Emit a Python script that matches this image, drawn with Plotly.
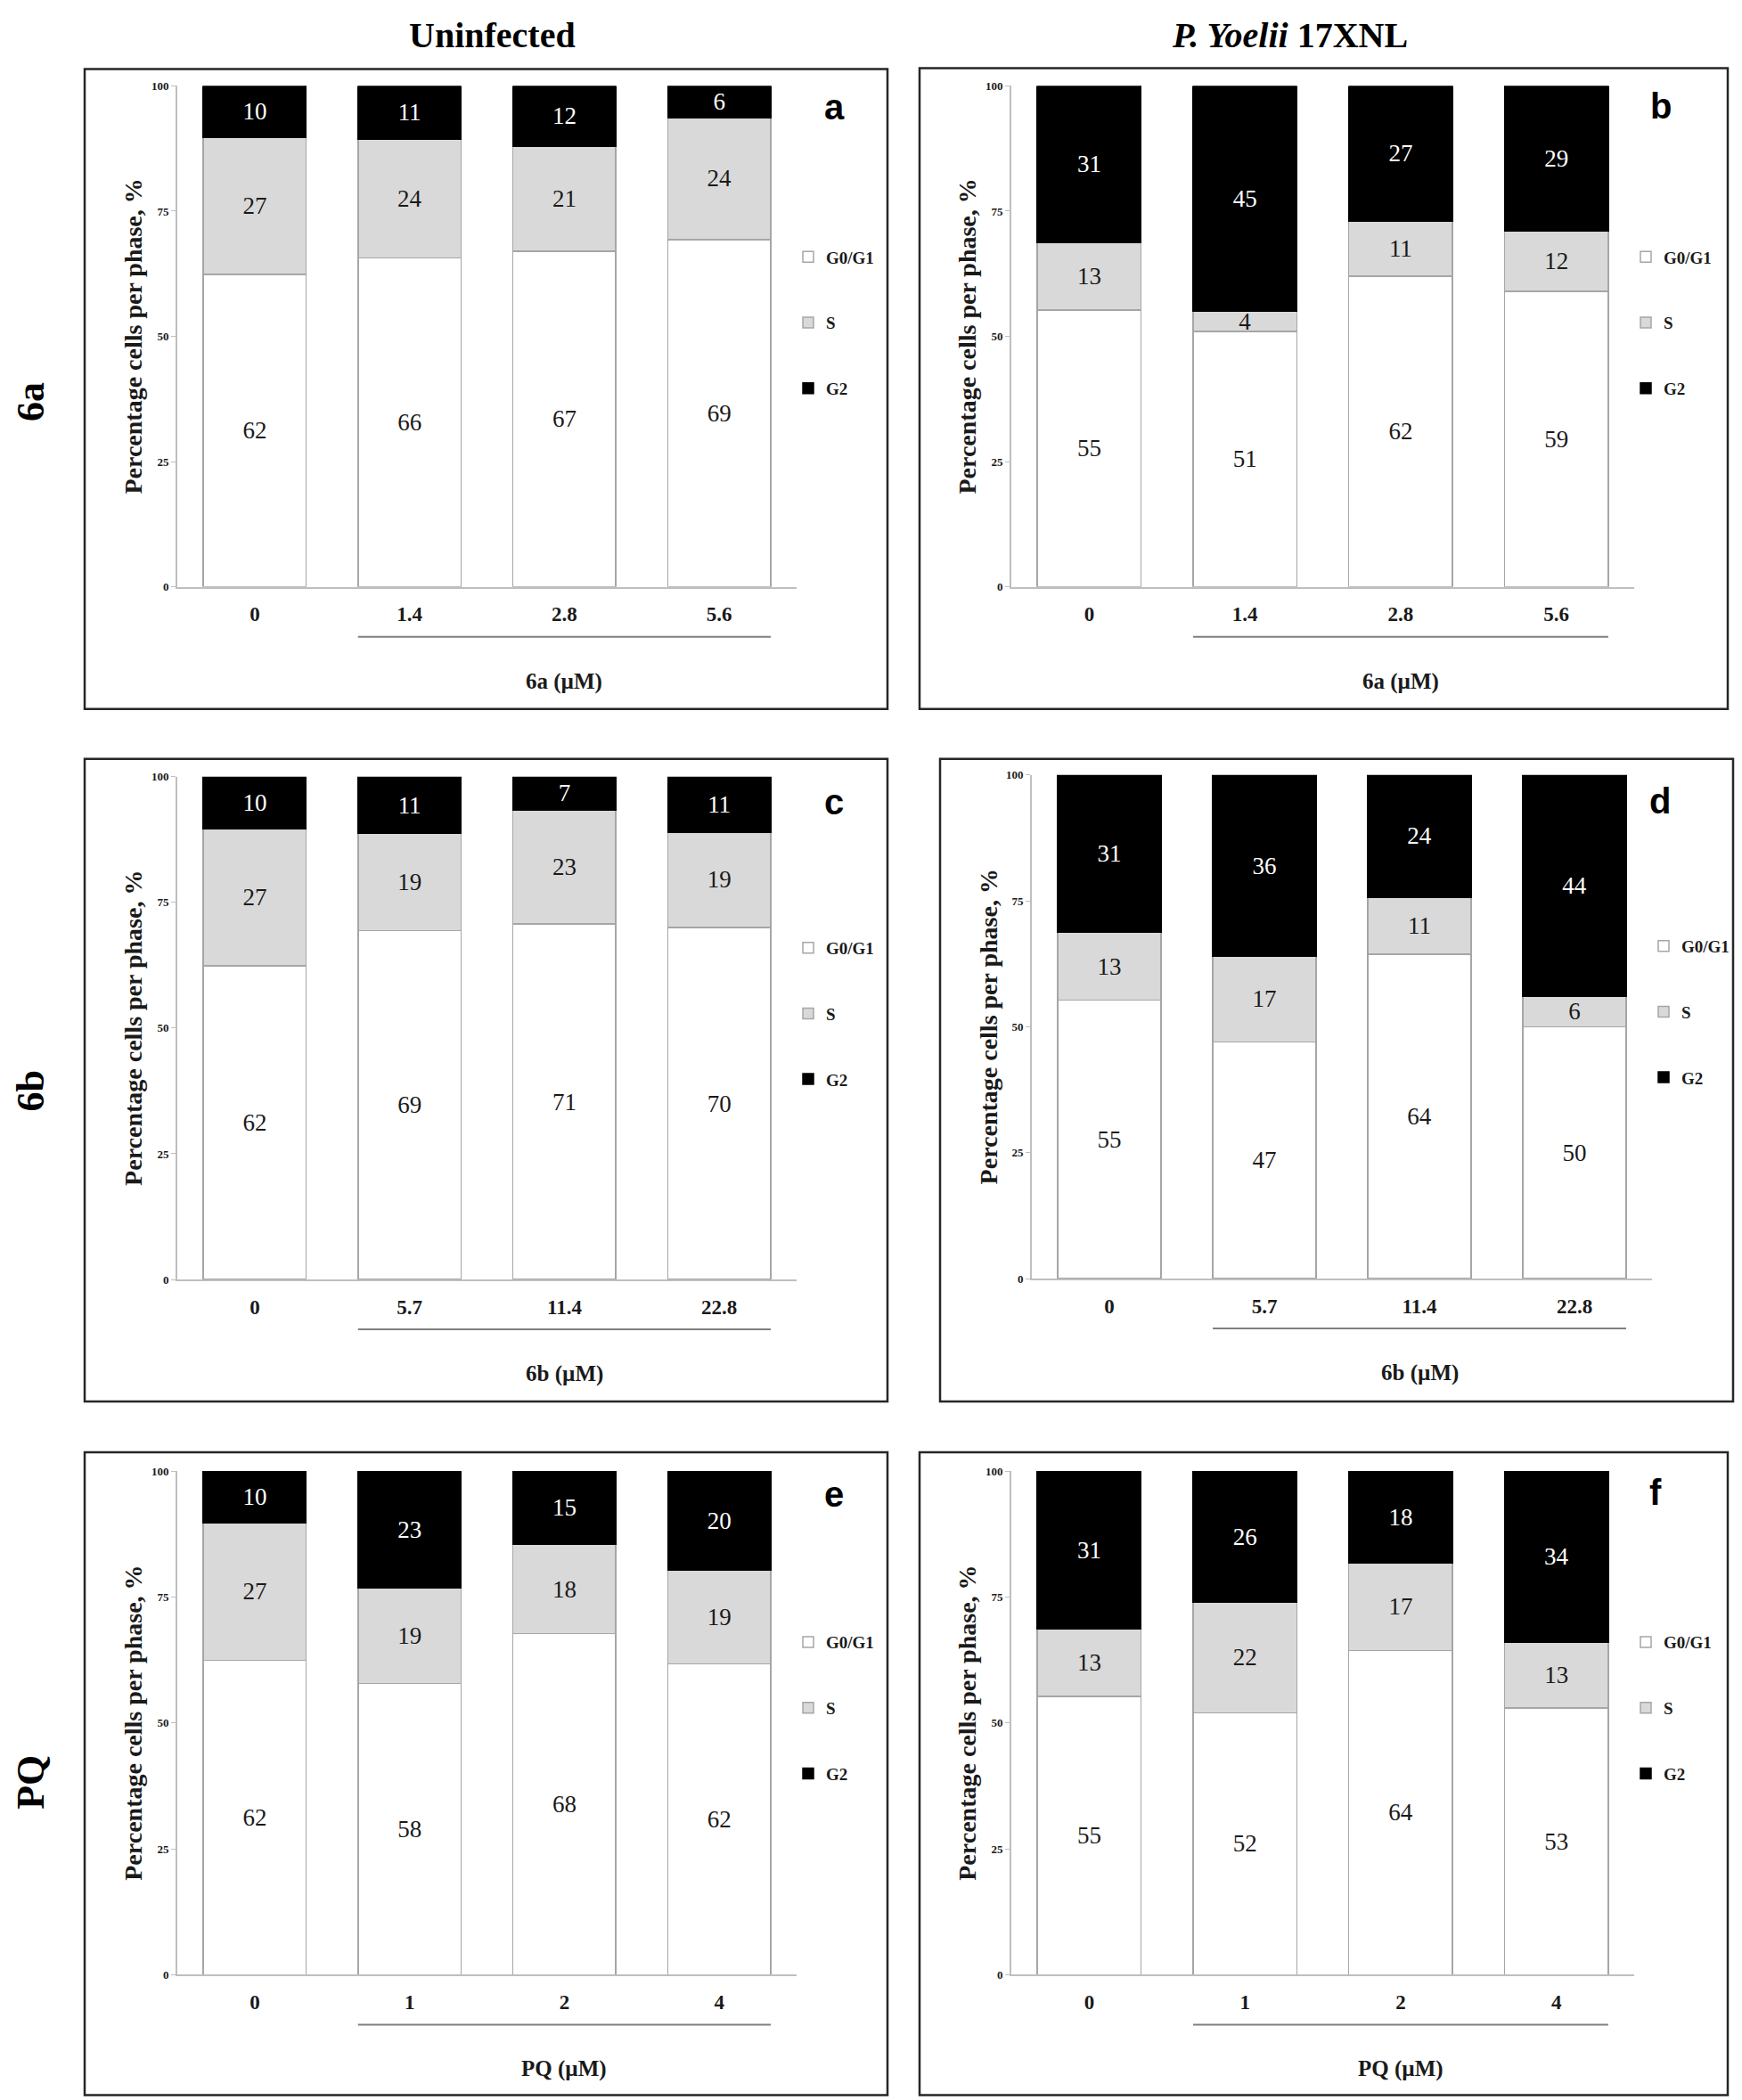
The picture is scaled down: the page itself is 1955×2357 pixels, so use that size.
import plotly.graph_objects as go

# Measured page mapping: the figure starts 8px in from the left, and its
# vertical coordinates appear at 15.6 + 0.9932 * y in the photographed page.
OFF_X = 8
Y0, SY = 15.6, 0.9932
W, H = 1955 - 2 * OFF_X, 2357

# ---------------- data ----------------
phases = ["G0/G1", "S", "G2"]
dose_6a = ["0", "1.4", "2.8", "5.6"]
dose_6b = ["0", "5.7", "11.4", "22.8"]
dose_pq = ["0", "1", "2", "4"]

col_titles = ["Uninfected", "<i>P. Yoelii</i> 17XNL"]
row_titles = ["6a", "6b", "PQ"]
x_titles = ["6a (\u00b5M)", "6b (\u00b5M)", "PQ (\u00b5M)"]

# panel a: uninfected, 6a
a_g0g1 = [62.4, 65.7, 67.0, 69.3]
a_s = [27.3, 23.7, 21.0, 24.4]
a_g2 = [10.3, 10.6, 12.0, 6.3]
# panel b: P. yoelii, 6a
b_g0g1 = [55.3, 51.0, 62.0, 59.0]
b_s = [13.4, 4.0, 11.0, 12.0]
b_g2 = [31.3, 45.0, 27.0, 29.0]
# panel c: uninfected, 6b
c_g0g1 = [62.4, 69.4, 70.7, 70.0]
c_s = [27.3, 19.3, 22.7, 19.0]
c_g2 = [10.3, 11.3, 6.6, 11.0]
# panel d: P. yoelii, 6b
d_g0g1 = [55.3, 47.0, 64.4, 50.0]
d_s = [13.4, 17.0, 11.3, 6.0]
d_g2 = [31.3, 36.0, 24.3, 44.0]
# panel e: uninfected, PQ
e_g0g1 = [62.4, 57.8, 67.7, 61.7]
e_s = [27.3, 19.0, 17.7, 18.7]
e_g2 = [10.3, 23.2, 14.6, 19.6]
# panel f: P. yoelii, PQ
f_g0g1 = [55.3, 52.0, 64.4, 53.0]
f_s = [13.4, 22.0, 17.3, 13.0]
f_g2 = [31.3, 26.0, 18.3, 34.0]

y_ticks = [0, 25, 50, 75, 100]

# ---------------- layout geometry (page pixels) ----------------
panels = [
    dict(letter="a", doses=dose_6a, xt=x_titles[0], vals=(a_g0g1, a_s, a_g2),
         plot=(199, 894, 97, 659), box=(95, 996, 78, 796), lpos=(936, 121)),
    dict(letter="b", doses=dose_6a, xt=x_titles[0], vals=(b_g0g1, b_s, b_g2),
         plot=(1135, 1834, 97, 659), box=(1032, 1939, 77, 796), lpos=(1864, 120)),
    dict(letter="c", doses=dose_6b, xt=x_titles[1], vals=(c_g0g1, c_s, c_g2),
         plot=(199, 894, 872, 1436), box=(95, 996, 852, 1573), lpos=(936, 900)),
    dict(letter="d", doses=dose_6b, xt=x_titles[1], vals=(d_g0g1, d_s, d_g2),
         plot=(1158, 1854, 870, 1435), box=(1055, 1945, 852, 1573), lpos=(1863, 899)),
    dict(letter="e", doses=dose_pq, xt=x_titles[2], vals=(e_g0g1, e_s, e_g2),
         plot=(199, 894, 1651, 2216), box=(95, 996, 1630, 2351), lpos=(936, 1677)),
    dict(letter="f", doses=dose_pq, xt=x_titles[2], vals=(f_g0g1, f_s, f_g2),
         plot=(1135, 1834, 1651, 2216), box=(1032, 1939, 1630, 2351), lpos=(1858, 1675)),
]

SERIF = "Liberation Serif, Times New Roman, serif"
SANS = "Liberation Sans, Arial, sans-serif"
fills = ["#ffffff", "#d9d9d9", "#000000"]
edges = ["#a6a6a6", "#a6a6a6", "#000000"]
txtcol = ["#1a1a1a", "#1a1a1a", "#ffffff"]
BARGAP = 0.334

fig = go.Figure()
layout = dict(width=W, height=H, margin=dict(l=0, r=0, t=0, b=0),
              paper_bgcolor="white", plot_bgcolor="white",
              barmode="stack", bargap=BARGAP, showlegend=True)
shapes, annots = [], []


def px(x):
    return (x - OFF_X) / W


def fy(y):
    """page y -> figure pixel y"""
    return (y - Y0) / SY


def py(y):
    return 1 - fy(y) / H


for i, p in enumerate(panels, start=1):
    sfx = "" if i == 1 else str(i)
    xa, ya = "x" + sfx, "y" + sfx
    leg = "legend" + sfx
    l, r, t, b = p["plot"]
    xs = list(range(len(p["doses"])))
    for k, ph in enumerate(phases):
        fig.add_trace(go.Bar(
            x=xs, y=p["vals"][k], name=ph, xaxis=xa, yaxis=ya,
            legend=leg, legendgroup=f"{p['letter']}-{ph}",
            marker=dict(color=fills[k], line=dict(color=edges[k], width=1.5)),
            texttemplate="%{y:.0f}", textposition="inside",
            insidetextanchor="middle", textangle=0, constraintext="none",
            insidetextfont=dict(family=SERIF, size=27, color=txtcol[k]),
            hoverinfo="skip",
        ))
    layout["xaxis" + sfx] = dict(
        domain=[px(l), px(r)], anchor=ya, range=[-0.5, len(xs) - 0.5],
        tickvals=xs, ticktext=p["doses"], showline=True, linecolor="#bfbfbf",
        linewidth=2, ticks="", showgrid=False, zeroline=False,
        ticklabelstandoff=9,
        tickfont=dict(family=SERIF, size=23, color="#1a1a1a", weight="bold"),
    )
    layout["yaxis" + sfx] = dict(
        domain=[py(b), py(t)], anchor=xa, range=[0, 100], tickvals=y_ticks,
        showline=True, linecolor="#bfbfbf", linewidth=2, ticks="outside",
        ticklen=5, tickcolor="#bfbfbf", showgrid=False, zeroline=False,
        tickfont=dict(family=SERIF, size=13, color="#1a1a1a", weight="bold"),
    )
    layout[leg] = dict(
        x=px(r + 18 - 25), xanchor="left", y=py(t + 190 - 17), yanchor="top",
        font=dict(family=SERIF, size=19, color="#1a1a1a", weight="bold"),
        bgcolor="rgba(0,0,0,0)", borderwidth=0, tracegroupgap=46,
        traceorder="grouped", itemclick=False, itemdoubleclick=False,
    )
    # panel frame
    bl, br, bt, bb = p["box"]
    shapes.append(dict(type="rect", xref="paper", yref="paper",
                       x0=px(bl), x1=px(br), y0=py(bb), y1=py(bt),
                       line=dict(color="#262626", width=2.5), layer="above"))
    # bracket line under treated doses
    hw = (1 - BARGAP) / 2
    ph_ = fy(b) - fy(t)
    shapes.append(dict(type="line", xref=xa, yref=ya + " domain",
                       x0=xs[1] - hw, x1=xs[-1] + hw,
                       y0=-56 / SY / ph_, y1=-56 / SY / ph_,
                       line=dict(color="#7f7f7f", width=2)))
    # x-axis title centered under treated doses
    annots.append(dict(xref=xa, yref=ya + " domain", x=sum(xs[1:]) / len(xs[1:]),
                       y=-106 / SY / ph_, text=p["xt"], showarrow=False,
                       xanchor="center", yanchor="middle",
                       font=dict(family=SERIF, size=25, color="#1a1a1a", weight="bold")))
    # y-axis title
    annots.append(dict(xref="paper", yref="paper", x=px(l - 49), y=py((t + b) / 2),
                       text="Percentage cells per phase, %", textangle=-90,
                       showarrow=False, xanchor="center", yanchor="middle",
                       font=dict(family=SERIF, size=28, color="#1a1a1a", weight="bold")))
    # panel letter
    lx, ly = p["lpos"]
    annots.append(dict(xref="paper", yref="paper", x=px(lx), y=py(ly),
                       text=p["letter"], showarrow=False,
                       xanchor="center", yanchor="middle",
                       font=dict(family=SANS, size=40, color="#000000", weight="bold")))

# column titles (top of the figure)
for txt, cx in zip(col_titles, [552, 1447]):
    annots.append(dict(xref="paper", yref="paper", x=px(cx), y=1.0,
                       text=txt, showarrow=False, xanchor="center", yanchor="top",
                       font=dict(family=SERIF, size=40, color="#000000", weight="bold")))
# row titles (left edge of the figure)
for txt, cy in zip(row_titles, [452, 1225, 2000]):
    annots.append(dict(xref="paper", yref="paper", x=0.0, y=py(cy),
                       text=txt, textangle=-90, showarrow=False,
                       xanchor="left", yanchor="middle",
                       font=dict(family=SERIF, size=44, color="#000000", weight="bold")))

layout["shapes"] = shapes
layout["annotations"] = annots
fig.update_layout(**layout)
fig.write_html("out.html")
